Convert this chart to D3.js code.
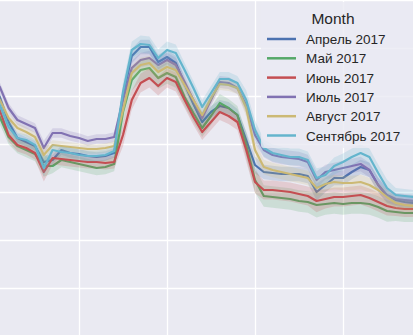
<!DOCTYPE html>
<html>
<head>
<meta charset="utf-8">
<script src="https://cdn.jsdelivr.net/npm/d3@7/dist/d3.min.js"></script>
<style>
  html, body { margin: 0; padding: 0; background: #EAEAF2; overflow: hidden; }
</style>
</head>
<body>
<div id="chart"></div>
<script>
// half-hour slots of the day, the picture only shows 1..48
const slots = d3.range(49)
const months = ["Апрель 2017", "Май 2017", "Июнь 2017", "Июль 2017", "Август 2017", "Сентябрь 2017"]

const april = [251, 239, 214, 198, 194, 190, 174, 176, 186, 183, 182, 180, 179, 180, 183, 241, 280, 289, 289, 274, 279, 273, 252, 232, 214, 224, 230, 228, 221, 196, 171, 164, 163, 162, 162, 162, 160, 144, 151, 158, 158, 164, 169, 166, 151, 140, 136, 134, 133]
const may = [231, 219, 199, 190, 186, 182, 170, 170, 176, 174, 172, 170, 168, 169, 172, 224, 256, 266, 268, 258, 263, 259, 239, 223, 208, 220, 233, 228, 221, 191, 156, 140, 139, 138, 137, 135, 134, 131, 132, 133, 132, 133, 133, 132, 129, 125, 124, 123, 123]
const june = [236, 226, 201, 191, 188, 183, 164, 178, 177, 176, 175, 174, 174, 173, 174, 201, 236, 253, 258, 250, 258, 254, 236, 219, 204, 214, 224, 220, 214, 186, 154, 146, 146, 145, 144, 142, 140, 135, 137, 139, 139, 140, 141, 138, 134, 130, 128, 127, 127]
const july = [261, 249, 228, 216, 212, 208, 188, 203, 203, 200, 198, 195, 197, 197, 199, 236, 268, 276, 278, 271, 276, 271, 254, 236, 218, 236, 254, 253, 248, 231, 201, 186, 181, 179, 178, 177, 174, 156, 164, 166, 168, 170, 172, 166, 151, 141, 137, 136, 135]
const august = [248, 236, 218, 208, 204, 199, 181, 191, 190, 189, 188, 187, 187, 188, 190, 226, 263, 271, 273, 264, 269, 266, 251, 236, 221, 238, 252, 251, 248, 228, 186, 169, 166, 164, 162, 160, 158, 148, 152, 154, 153, 153, 154, 151, 146, 139, 133, 131, 130]
const september = [244, 231, 209, 198, 196, 191, 168, 186, 184, 183, 181, 180, 180, 181, 185, 244, 286, 292, 291, 278, 286, 283, 266, 248, 229, 243, 257, 257, 253, 236, 206, 188, 183, 181, 179, 179, 176, 158, 161, 170, 174, 179, 183, 179, 163, 148, 141, 140, 139]

// half width of the confidence band per slot, and how wide each month's band is
const spread = [4, 4, 4, 4, 4, 4, 6, 4, 4, 4, 4, 4, 4, 4, 4, 7, 6, 6, 6, 6, 6, 6, 5, 5, 5, 5, 5, 5, 5, 7, 7, 6, 6, 6, 6, 6, 6, 7, 6, 6, 6, 6, 6, 6, 6, 6, 5, 5, 5]
const spreadFactor = [1.2, 1.8, 1.6, 1.2, 1.2, 1.4]

const xTicks = [0, 10, 20, 30, 40]
const yTicks = [0, 48, 96, 144, 192, 240, 288, 336]

const seriesValues = [april, may, june, july, august, september]
const palette = ["#4C72B0", "#55A868", "#C44E52", "#8172B2", "#CCB974", "#64B5CD"]

const width = 413
const height = 335

let series = months.map((m, k) => ({
  key: m,
  values: slots.map(i => ({
    slot: i,
    v: seriesValues[k][i],
    lo: seriesValues[k][i] - spread[i] * spreadFactor[k],
    hi: seriesValues[k][i] + spread[i] * spreadFactor[k]
  }))
}))

let color = d3.scaleOrdinal().domain(months).range(palette)

let x = d3.scaleLinear()
  .domain([0, 48])
  .range([-9, 413.4])

let y = d3.scaleLinear()
  .domain([0, 336])
  .range([336, 0])

const svg = d3.select("#chart").append("svg")
  .attr("width", width)
  .attr("height", height)
  .style("display", "block")
  .style("font-family", "'Liberation Sans', Arial, sans-serif")

svg.append("rect")
  .attr("width", width)
  .attr("height", height)
  .attr("fill", "#EAEAF2")

// grid
svg.append("g")
  .call(d3.axisBottom(x).tickValues(xTicks).tickSize(height).tickFormat(""))
  .call(g => g.select(".domain").remove())
  .call(g => g.selectAll(".tick line").attr("stroke", "#fff").attr("stroke-width", 1.3))

svg.append("g")
  .call(d3.axisLeft(y).tickValues(yTicks).tickSize(-width).tickFormat(""))
  .call(g => g.select(".domain").remove())
  .call(g => g.selectAll(".tick line").attr("stroke", "#fff").attr("stroke-width", 1.3))

let line = d3.line()
  .x(d => x(d.slot))
  .y(d => y(d.v))

let band = d3.area()
  .x(d => x(d.slot))
  .y0(d => y(d.lo))
  .y1(d => y(d.hi))

let groups = svg.append("g")
  .selectAll("g")
  .data(series)
  .join("g")

groups.append("path")
  .attr("d", d => band(d.values))
  .attr("fill", d => color(d.key))
  .attr("fill-opacity", 0.2)

groups.append("path")
  .attr("d", d => line(d.values))
  .attr("fill", "none")
  .attr("stroke", d => color(d.key))
  .attr("stroke-width", 2.2)
  .attr("stroke-linejoin", "round")

// legend
let legend = svg.append("g")

legend.append("rect")
  .attr("x", 261)
  .attr("y", 2)
  .attr("width", 170)
  .attr("height", 146)
  .attr("rx", 3)
  .attr("fill", "#EAEAF2")
  .attr("fill-opacity", 0.8)

legend.append("text")
  .attr("x", 333)
  .attr("y", 24)
  .attr("text-anchor", "middle")
  .attr("font-size", 15.5)
  .attr("fill", "#262626")
  .text("Month")

let items = legend.selectAll("g.item")
  .data(months)
  .join("g")
  .attr("class", "item")
  .attr("transform", (d, i) => `translate(0,${39 + i * 19.3})`)

items.append("line")
  .attr("x1", 267)
  .attr("x2", 296)
  .attr("stroke", d => color(d))
  .attr("stroke-width", 2.5)

items.append("text")
  .attr("x", 306)
  .attr("y", 5)
  .attr("font-size", 13.5)
  .attr("fill", "#262626")
  .text(d => d)
</script>
</body>
</html>
